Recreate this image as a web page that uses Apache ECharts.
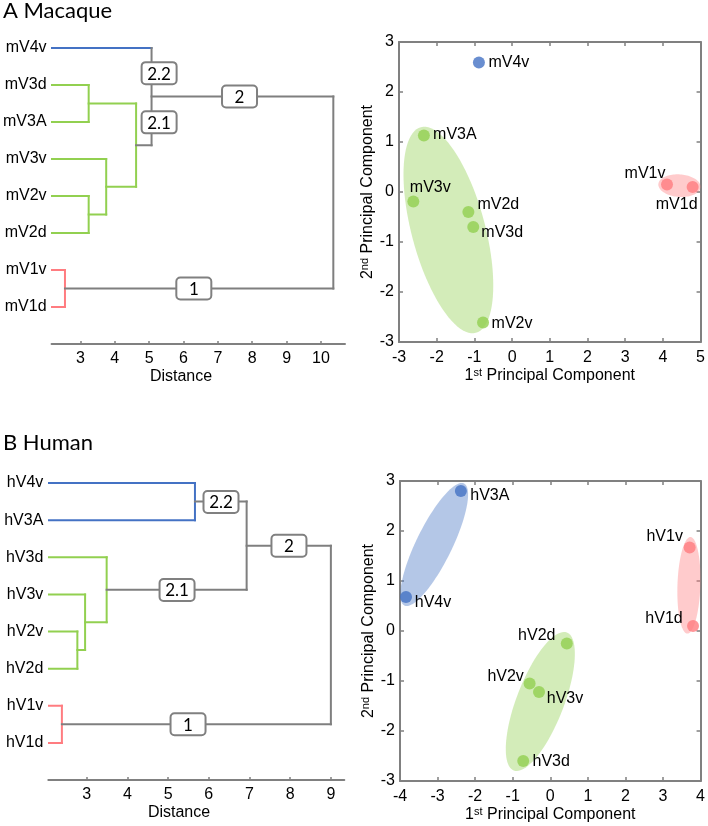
<!DOCTYPE html>
<html><head><meta charset="utf-8">
<script src="https://cdn.jsdelivr.net/npm/echarts@6/dist/echarts.min.js"></script>
<style>html,body{margin:0;padding:0;background:#fff}#c{width:708px;height:826px}</style>
</head><body><div id="c"></div>
<script>
// ================= DATA =================
// Panel A (Macaque) dendrogram: leaves top -> bottom
const leavesA = ['mV4v','mV3d','mV3A','mV3v','mV2v','mV2d','mV1v','mV1d'];
const leafClusterA = ['blue','green','green','green','green','green','red','red'];
// merges: [childA, childB, distance, cluster] ; node ids: leaves 0..7, merges 8..
const mergesA = [
  [1, 2, 3.24, 'green'],
  [4, 5, 3.24, 'green'],
  [6, 7, 2.55, 'red'],
  [3, 9, 3.75, 'green'],
  [8, 11, 4.62, 'green'],
  [0, 12, 5.07, null],
  [13, 10, 10.36, null]
];
const distTicksA = [3,4,5,6,7,8,9,10];
const boxTextA = ['2.2','2.1','2','1'];
const boxDistA = [5.29, 5.29, 7.63, 6.30];
const boxPosA  = [0.68, 2.01, 1.31, 6.50];

// Panel B (Human) dendrogram
const leavesB = ['hV4v','hV3A','hV3d','hV3v','hV2v','hV2d','hV1v','hV1d'];
const leafClusterB = ['blue','blue','green','green','green','green','red','red'];
const mergesB = [
  [4, 5, 2.77, 'green'],
  [6, 7, 2.39, 'red'],
  [3, 8, 2.96, 'green'],
  [2, 10, 3.49, 'green'],
  [0, 1, 5.66, 'blue'],
  [12, 11, 6.93, null],
  [13, 9, 9.00, null]
];
const distTicksB = [3,4,5,6,7,8,9];
const boxTextB = ['2.2','2.1','2','1'];
const boxDistB = [6.30, 5.22, 7.97, 5.49];
const boxPosB  = [0.51, 2.88, 1.69, 6.50];

// Panel A PCA
const pcNamesA = ['mV4v','mV3A','mV3v','mV2d','mV3d','mV2v','mV1v','mV1d'];
const pc1A = [-0.88, -2.34, -2.62, -1.16, -1.03, -0.77, 4.11, 4.79];
const pc2A = [ 2.59,  1.13, -0.19, -0.40, -0.70, -2.61, 0.15, 0.10];
const pcClusterA = ['blue','green','green','green','green','green','red','red'];
const ellipseClusterA = ['green','red'];
const ellipseCenterA = [[-1.69, -0.76], [4.44, 0.127]];
const ellipseAxis1A  = [[-0.73, 2.056], [0.56, -0.03]];
const ellipseAxis2A  = [[0.941, 0.192], [-0.021, -0.225]];

// Panel B PCA
const pcNamesB = ['hV3A','hV4v','hV1v','hV1d','hV2d','hV2v','hV3v','hV3d'];
const pc1B = [-2.38, -3.84, 3.71, 3.80, 0.44, -0.55, -0.30, -0.72];
const pc2B = [ 2.80,  0.68, 1.67, 0.10, -0.25, -1.05, -1.22, -2.60];
const pcClusterB = ['blue','blue','red','red','green','green','green','green'];
const ellipseClusterB = ['blue','green','red'];
const ellipseCenterB = [[-3.09, 1.73], [-0.265, -1.41], [3.69, 0.914]];
const ellipseAxis1B  = [[0.795, 1.22], [0.707, 1.38], [0.04, 0.966]];
const ellipseAxis2B  = [[0.427, -0.159], [0.588, -0.171], [0.305, 0.0]];

// ================= STYLE =================
const COL = {blue:'#4472C4', green:'#92D050', red:'#FF7C80', gray:'#7F7F7F'};
const FILL = {blue:'rgba(68,114,196,0.40)', green:'rgba(146,208,80,0.40)', red:'rgba(255,124,128,0.40)'};
const AX = '#808080';
const TXT = '#000';
const FONT = '"Liberation Sans", Arial, sans-serif';
const CAL = 'Lato, "Open Sans", sans-serif';
// label offsets (text centre relative to marker centre, px)
const labelOffA = {mV4v:[30,0], mV3A:[31,-1], mV3v:[17,-14], mV2d:[30,-7], mV3d:[29,6], mV2v:[29,1], mV1v:[-22,-11], mV1d:[-16,18]};
const labelOffB = {hV3A:[29,5], hV4v:[27,6], hV1v:[-25,-11], hV1d:[-29,-7], hV2d:[-30,-8], hV2v:[-24,-7], hV3v:[26,7], hV3d:[28,1]};

// ================= BUILDERS =================
function dendroSegments(leafClusters, merges) {
  const n = leafClusters.length;
  const pos = [], h = [];
  for (let i = 0; i < n; i++) { pos[i] = i; h[i] = 0; }
  const segs = [];
  merges.forEach((m, k) => {
    const [a, b, d, cl] = m;
    const id = n + k;
    pos[id] = (pos[a] + pos[b]) / 2; h[id] = d;
    [a, b].forEach(c => {
      const col = cl ? cl : (c < n ? leafClusters[c] : 'gray');
      segs.push([h[c], pos[c], d, pos[c], col]);
    });
    segs.push([d, pos[a], d, pos[b], cl || 'gray']);
  });
  return segs;
}

function dendroSeries(segs, axIdx) {
  return {
    type: 'custom', xAxisIndex: axIdx, yAxisIndex: axIdx, clip: true, z: 2,
    data: segs.map(s => [s[0], s[1], s[2], s[3]]),
    renderItem: (params, api) => {
      const p1 = api.coord([api.value(0), api.value(1)]);
      const p2 = api.coord([api.value(2), api.value(3)]);
      return {type: 'line', shape: {x1: p1[0], y1: p1[1], x2: p2[0], y2: p2[1]},
        style: {stroke: COL[segs[params.dataIndex][4]], lineWidth: 2, lineCap: 'square'}};
    }
  };
}

function boxSeries(texts, xs, ys, axIdx) {
  return {
    type: 'custom', xAxisIndex: axIdx, yAxisIndex: axIdx, z: 5,
    data: xs.map((x, i) => [x, ys[i]]),
    renderItem: (params, api) => {
      const p = api.coord([api.value(0), api.value(1)]);
      const w = 35, hh = 22;
      return {type: 'group', children: [
        {type: 'rect', shape: {x: p[0] - w/2, y: p[1] - hh/2, width: w, height: hh, r: 4},
          style: {fill: '#fff', stroke: AX, lineWidth: 2}},
        {type: 'text', style: {x: p[0], y: p[1] + 1, text: texts[params.dataIndex], fill: '#000',
          font: '17px ' + CAL, textAlign: 'center', textVerticalAlign: 'middle'}}
      ]};
    }
  };
}

function ellipseSeries(clusters, centers, ax1, ax2, axIdx) {
  return {
    type: 'custom', xAxisIndex: axIdx, yAxisIndex: axIdx, clip: true, z: 1, silent: true,
    data: centers.map(c => [c[0], c[1]]),
    renderItem: (params, api) => {
      const i = params.dataIndex, c = centers[i], u = ax1[i], v = ax2[i];
      const pts = [];
      for (let k = 0; k < 96; k++) {
        const t = k / 96 * 2 * Math.PI;
        pts.push(api.coord([c[0] + Math.cos(t) * u[0] + Math.sin(t) * v[0],
                            c[1] + Math.cos(t) * u[1] + Math.sin(t) * v[1]]));
      }
      return {type: 'polygon', shape: {points: pts}, style: {fill: FILL[clusters[i]]}};
    }
  };
}

function pcaSeries(names, xs, ys, clusters, offs, axIdx) {
  return {
    type: 'scatter', xAxisIndex: axIdx, yAxisIndex: axIdx, symbol: 'circle', symbolSize: 12, z: 3,
    data: names.map((n, i) => ({
      value: [xs[i], ys[i]],
      itemStyle: {color: COL[clusters[i]]},
      label: {show: true, formatter: n, position: 'inside', offset: offs[n],
        color: TXT, fontSize: 16, fontFamily: FONT, textBorderWidth: 0, textBorderColor: 'transparent', opacity: 1}
    }))
  };
}

const tickStyle = {show: true, inside: true, length: 4, lineStyle: {color: AX, width: 1.5}};
const lineStyle = {show: true, onZero: false, lineStyle: {color: AX, width: 2}};
const lblStyle = {color: TXT, fontSize: 16, fontFamily: FONT};

function dendroX(min, max, ticks, grid) {
  return {type: 'value', gridIndex: grid, min: min, max: max,
    axisLine: lineStyle, axisTick: Object.assign({}, tickStyle, {length: 3, customValues: ticks}),
    axisLabel: Object.assign({}, lblStyle, {margin: 7, customValues: ticks}), splitLine: {show: false}};
}
function dendroY(leaves, grid) {
  return {type: 'value', gridIndex: grid, min: -0.5, max: 8, inverse: true,
    axisLine: {show: false, onZero: false}, axisTick: {show: false}, splitLine: {show: false},
    axisLabel: Object.assign({}, lblStyle, {margin: 5, customValues: leaves.map((l, i) => i),
      formatter: v => leaves[v] || ''})};
}
const supRich = {a: {fontSize: 16, fontFamily: FONT, color: TXT}, s: {fontSize: 11, fontFamily: FONT, color: TXT, verticalAlign: 'top', padding: [0, 0, 6, 0]}};
function pcX(min, max, grid, pos) {
  const bottom = pos === 'bottom';
  return {type: 'value', gridIndex: grid, position: pos, min: min, max: max, interval: 1,
    axisLine: lineStyle, axisTick: tickStyle, splitLine: {show: false},
    axisLabel: bottom ? Object.assign({}, lblStyle, {margin: 8}) : {show: false},
    name: bottom ? '{a|1}{s|st}{a| Principal Component}' : '', nameLocation: 'middle', nameGap: 25,
    nameTextStyle: {rich: supRich}};
}
function pcY(grid, pos) {
  const left = pos === 'left';
  return {type: 'value', gridIndex: grid, position: pos, min: -3, max: 3, interval: 1,
    axisLine: lineStyle, axisTick: tickStyle, splitLine: {show: false},
    axisLabel: left ? Object.assign({}, lblStyle, {margin: 5}) : {show: false},
    name: left ? '{a|2}{s|nd}{a| Principal Component}' : '', nameLocation: 'middle', nameGap: 18,
    nameTextStyle: {rich: supRich}};
}

const chart = echarts.init(document.getElementById('c'));
chart.setOption({
  animation: false,
  backgroundColor: '#fff',
  grid: [
    {left: 50, top: 29.5, width: 295, height: 314.5},
    {left: 399, top: 42, width: 302, height: 300},
    {left: 48.3, top: 464.5, width: 296, height: 315.5},
    {left: 400, top: 481, width: 302, height: 300}
  ],
  xAxis: [
    dendroX(2.16, 10.7, distTicksA, 0),
    pcX(-3, 5, 1, 'bottom'),
    dendroX(2.056, 9.33, distTicksB, 2),
    pcX(-4, 4, 3, 'bottom'),
    pcX(-3, 5, 1, 'top'),
    pcX(-4, 4, 3, 'top')
  ],
  yAxis: [
    dendroY(leavesA, 0),
    pcY(1, 'left'),
    dendroY(leavesB, 2),
    pcY(3, 'left'),
    pcY(1, 'right'),
    pcY(3, 'right')
  ],
  graphic: [
    {type: 'text', left: 3, top: 0, style: {text: 'A Macaque', font: '22px ' + CAL, fill: '#000'}},
    {type: 'text', left: 3, top: 432, style: {text: 'B Human', font: '22px ' + CAL, fill: '#000'}},
    {type: 'text', x: 181, y: 377, style: {text: 'Distance', font: '16px ' + FONT, fill: TXT, textAlign: 'center', textVerticalAlign: 'middle'}},
    {type: 'text', x: 179, y: 813, style: {text: 'Distance', font: '16px ' + FONT, fill: TXT, textAlign: 'center', textVerticalAlign: 'middle'}}
  ],
  series: [
    dendroSeries(dendroSegments(leafClusterA, mergesA), 0),
    boxSeries(boxTextA, boxDistA, boxPosA, 0),
    dendroSeries(dendroSegments(leafClusterB, mergesB), 2),
    boxSeries(boxTextB, boxDistB, boxPosB, 2),
    ellipseSeries(ellipseClusterA, ellipseCenterA, ellipseAxis1A, ellipseAxis2A, 1),
    pcaSeries(pcNamesA, pc1A, pc2A, pcClusterA, labelOffA, 1),
    ellipseSeries(ellipseClusterB, ellipseCenterB, ellipseAxis1B, ellipseAxis2B, 3),
    pcaSeries(pcNamesB, pc1B, pc2B, pcClusterB, labelOffB, 3)
  ]
});
</script></body></html>
